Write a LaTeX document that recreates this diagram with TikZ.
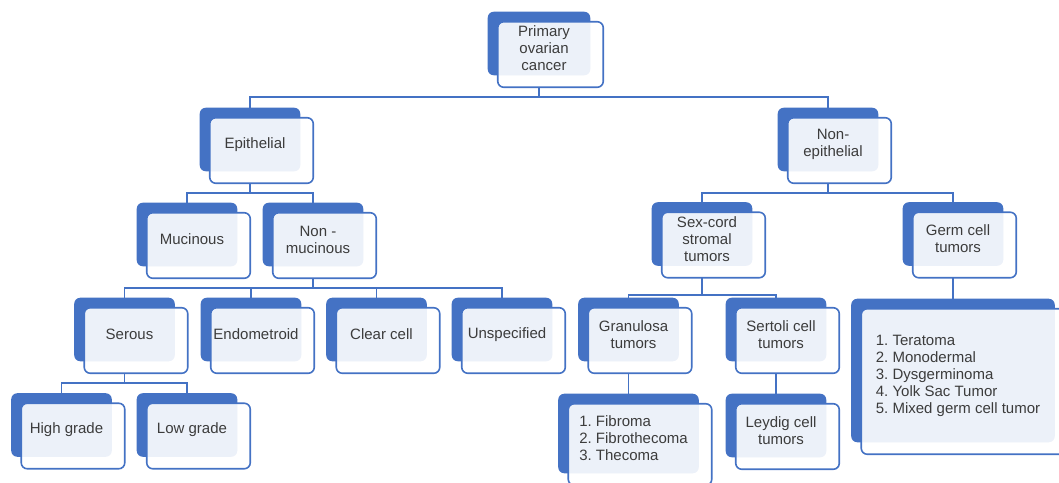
\documentclass[tikz,border=0pt]{standalone}
\usepackage{fontspec}
\setmainfont{Liberation Sans}
\frenchspacing
\usetikzlibrary{backgrounds,positioning}
\definecolor{ovblue}{HTML}{4472C4}
\definecolor{ovtext}{HTML}{3C3C3C}
\tikzset{category/.style={
  % The shape:
  rectangle,
  % The size:
  minimum width=67.5pt, minimum height=39.75pt, inner sep=1pt,
  % Font:
  align=center, text=ovtext,
  font=\fontsize{11.25}{12.75}\selectfont,
  }
}
\tikzset{typelist/.style={
  % Same box, list text:
  category, align=left,
  }
}
\begin{document}
\begin{tikzpicture}[x=0.75pt, y=-0.75pt,
    link/.style={draw=ovblue, line width=1.2pt},
    bus/.style={to path={-- ++(0,#1) -| (\tikztotarget)}}]
  \useasboundingbox (0,0) rectangle (1059,482);
  % Top:
  \node (prim)     [category, minimum width=69pt] at (544,48.5) {Primary\\ovarian\\cancer};
  % Second level:
  \node (epi)      [category] at (255,144.5) {Epithelial};
  \node (nonepi)   [category] at (833,144.5) {Non-\\epithelial};
  % Third level:
  \node (muc)      [category] at (192,239.5) {Mucinous};
  \node (nonmuc)   [category] at (318,239.5) {Non -\\mucinous};
  \node (sexcord)  [category] at (707,239)   {Sex-cord\\stromal\\tumors};
  \node (germ)     [category] at (958,239)   {Germ cell\\tumors};
  % Fourth level:
  \node (serous)   [category] at (129.5,334.5) {Serous};
  \node (endo)     [category] at (256,334.5)   {Endometroid};
  \node (clear)    [category] at (381.5,334.5) {Clear cell};
  \node (unspec)   [category] at (507,334.5)   {Unspecified};
  \node (gran)     [category] at (633.5,334.5) {Granulosa\\tumors};
  \node (sert)     [category] at (781,334.5)   {Sertoli cell\\tumors};
  \node (germlist) [typelist, minimum width=144.75pt, minimum height=99.75pt] at (958,375.5)
    {1. Teratoma\\2. Monodermal\\3. Dysgerminoma\\4. Yolk Sac Tumor\\5. Mixed germ cell tumor};
  % Fifth level:
  \node (high)     [category] at (66.5,430)  {High grade};
  \node (low)      [category] at (192,430)   {Low grade};
  \node (fib)      [typelist, minimum width=97.5pt, minimum height=51.75pt] at (633.5,438.5)
    {1. Fibroma\\2. Fibrothecoma\\3. Thecoma};
  \node (leydig)   [category] at (781,430.5) {Leydig cell\\tumors};

  % Back and front boxes:
  \begin{scope}[on background layer]
    \foreach \n in {prim,epi,nonepi,muc,nonmuc,sexcord,germ,serous,endo,clear,
                    unspec,gran,sert,germlist,high,low,fib,leydig} {
      \fill[ovblue, rounded corners=4.5pt]
        ([shift={(-10,-10)}]\n.north west) rectangle (\n.south east);
      \draw[ovblue, line width=1.2pt, fill=white, fill opacity=0.9, rounded corners=4.5pt]
        (\n.north west) rectangle ([shift={(13,12)}]\n.south east);
      \coordinate (\n-t) at ([shift={(-5,-10)}]\n.north);
      \coordinate (\n-b) at ([shift={(-5,12)}]\n.south);
    }
  \end{scope}

  \path (prim-b)    edge [link,bus=10] (epi-t)    edge [link,bus=10] (nonepi-t)
        (epi-b)     edge [link,bus=10] (muc-t)    edge [link,bus=10] (nonmuc-t)
        (nonepi-b)  edge [link,bus=10] (sexcord-t) edge [link,bus=10] (germ-t)
        (nonmuc-b)  edge [link,bus=10] (serous-t) edge [link,bus=10] (endo-t)
                    edge [link,bus=10] (clear-t)  edge [link,bus=10] (unspec-t)
        (sexcord-b) edge [link,bus=17] (gran-t)   edge [link,bus=17] (sert-t)
        (serous-b)  edge [link,bus=10] (high-t)   edge [link,bus=10] (low-t)
        (gran-b)    edge [link] (fib-t)
        (sert-b)    edge [link] (leydig-t)
        (germ-b)    edge [link] (germlist-t);
\end{tikzpicture}
\end{document}
